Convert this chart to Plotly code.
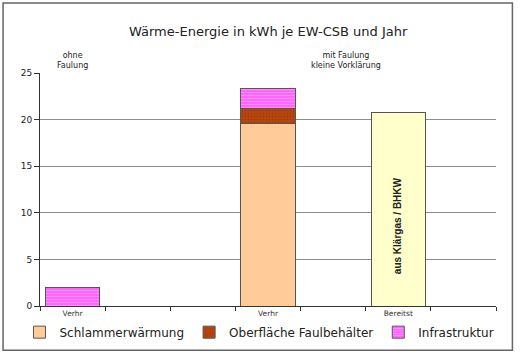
import plotly.graph_objects as go

categories = ["k0", "k1", "k2", "k3", "k4", "k5", "k6"]
tick_labels = ["Verhr", "", "", "Verhr", "", "Bereitst", ""]

schlamm = [None, None, None, 19.6, None, None, None]
oberflaeche = [None, None, None, 1.6, None, None, None]
infrastruktur = [2.0, None, None, 2.1, None, None, None]
bereitst = [None, None, None, None, None, 20.8, None]

group_labels = ["ohne<br>Faulung", "mit Faulung<br>kleine Vorklärung"]
group_pos = [0, 4.2]
bar_text = "aus Klärgas / BHKW"

FONT = "Liberation Sans, Arial, sans-serif"
WIDE = "DejaVu Sans, sans-serif"
EDGE = dict(color="#555555", width=1)

fig = go.Figure()
fig.add_trace(go.Bar(x=categories, y=schlamm, name="Schlammerwärmung",
                     marker=dict(color="#FFCC99", line=EDGE), width=0.83))
fig.add_trace(go.Bar(x=categories, y=oberflaeche, name="Oberfläche Faulbehälter",
                     marker=dict(color="#B8470F", line=EDGE,
                                 pattern=dict(shape=".", fgcolor="#8A3000", size=3, solidity=0.3)),
                     width=0.83))
fig.add_trace(go.Bar(x=categories, y=infrastruktur, name="Infrastruktur",
                     marker=dict(color="#FF66FF", line=EDGE,
                                 pattern=dict(shape="-", fgcolor="#FFB3FF", size=3, solidity=0.35)),
                     width=0.83))
fig.add_trace(go.Bar(x=categories, y=bereitst, name="Bereitst", showlegend=False,
                     marker=dict(color="#FFFFCC", line=EDGE), width=0.83))

annotations = [
    dict(x=5, y=8.6, xref="x", yref="y", text="<b>" + bar_text + "</b>", textangle=-90,
         showarrow=False, font=dict(family=FONT, size=10, color="#222222")),
]
for lbl, pos in zip(group_labels, group_pos):
    annotations.append(dict(x=pos, y=1.0, xref="x", yref="paper", yanchor="bottom",
                            yshift=1, text=lbl, showarrow=False,
                            font=dict(family=WIDE, size=8, color="#222222")))
annotations.append(dict(x=0.5, y=1.176, xref="paper", yref="paper", yanchor="middle", xanchor="center",
                        text="Wärme-Energie in kWh je EW-CSB und Jahr", showarrow=False,
                        font=dict(family=WIDE, size=13, color="#222222")))

fig.update_layout(
    width=520, height=356,
    barmode="stack",
    paper_bgcolor="white", plot_bgcolor="white",
    margin=dict(l=40, r=24, t=73, b=50, autoexpand=False),
    font=dict(family=FONT, size=9, color="#222222"),
    annotations=annotations,
    shapes=[dict(type="rect", xref="paper", yref="paper",
                 x0=-0.081, x1=1.036, y0=-0.19, y1=1.30,
                 line=dict(color="#666666", width=1.5), layer="below")],
    legend=dict(orientation="h", x=-0.045, y=-0.05, xanchor="left", yanchor="top",
                traceorder="normal",
                font=dict(family=WIDE, size=12, color="#222222"),
                itemwidth=30, tracegroupgap=0,
                bgcolor="rgba(0,0,0,0)"),
)
fig.update_xaxes(type="category", categoryorder="array", categoryarray=categories,
                 tickmode="array", tickvals=categories, ticktext=tick_labels,
                 tickson="boundaries", ticks="outside", ticklen=4, tickcolor="#333333",
                 showline=True, linecolor="#333333", linewidth=1,
                 tickfont=dict(family=WIDE, size=7.5, color="#333333"),
                 range=[-0.5, 6.5])
fig.update_yaxes(range=[0, 25], dtick=5, showgrid=True, gridcolor="#8c8c8c", gridwidth=1,
                 ticks="outside", ticklen=5, tickcolor="#333333",
                 showline=True, linecolor="#333333", linewidth=1,
                 tickfont=dict(family=WIDE, size=9, color="#222222"), zeroline=False)

fig.write_html("out.html", config={"displayModeBar": False},
               post_script="document.body.style.margin='0';document.body.style.overflow='hidden';")
